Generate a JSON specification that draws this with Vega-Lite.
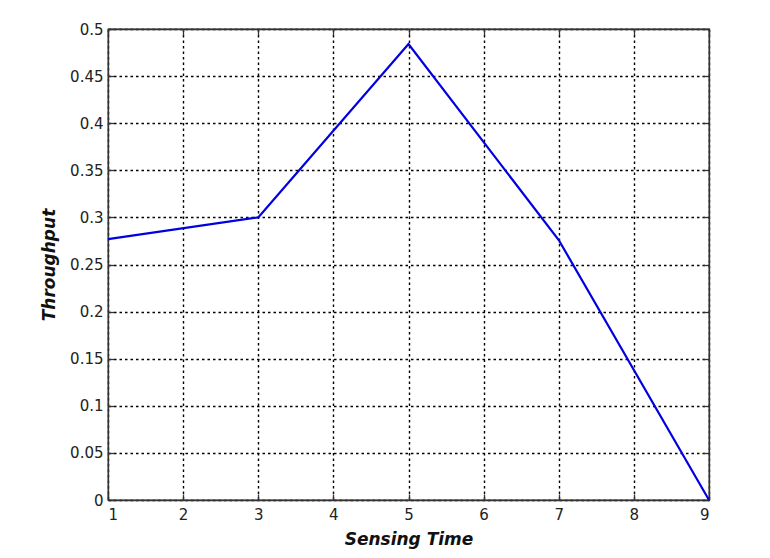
{
  "$schema": "https://vega.github.io/schema/vega-lite/v6.json",
  "width": 601,
  "height": 471,
  "autosize": "none",
  "padding": {"left": 108, "top": 29, "right": 61, "bottom": 58},
  "background": "white",
  "config": {
    "view": {"stroke": "#333333", "strokeWidth": 1.3},
    "axis": {
      "labelFont": "DejaVu Sans",
      "labelFontSize": 15,
      "labelColor": "#222222",
      "domainColor": "#333333",
      "domainWidth": 1.3,
      "tickColor": "#333333",
      "tickWidth": 1.3,
      "gridColor": "#000000",
      "gridDash": [2.5, 3],
      "gridWidth": 1.4,
      "gridOpacity": 1,
      "titleFont": "DejaVu Sans",
      "titleFontSize": 17,
      "titleFontWeight": "bold",
      "titleFontStyle": "italic",
      "titleColor": "#111111"
    }
  },
  "data": {
    "values": [
      {"t": 1, "throughput": 0.277},
      {"t": 3, "throughput": 0.3},
      {"t": 5, "throughput": 0.484},
      {"t": 7, "throughput": 0.276},
      {"t": 9, "throughput": 0.0}
    ]
  },
  "resolve": {"axis": {"x": "independent", "y": "independent"}},
  "layer": [
    {
      "mark": {"type": "line", "color": "#0000e0", "strokeWidth": 2.2},
      "encoding": {
        "x": {
          "field": "t", "type": "quantitative",
          "scale": {"domain": [1, 9], "nice": false, "zero": false},
          "axis": {"title": "Sensing Time", "values": [1,2,3,4,5,6,7,8,9], "format": "~g", "tickSize": -6, "labelPadding": 13, "titlePadding": 9, "grid": true}
        },
        "y": {
          "field": "throughput", "type": "quantitative",
          "scale": {"domain": [0, 0.5], "nice": false},
          "axis": {"title": "Throughput", "values": [0,0.05,0.1,0.15,0.2,0.25,0.3,0.35,0.4,0.45,0.5], "format": "~g", "tickSize": -6, "labelPadding": 11, "titlePadding": 11, "grid": true}
        }
      }
    },
    {
      "mark": {"type": "line", "opacity": 0},
      "encoding": {
        "x": {
          "field": "t", "type": "quantitative",
          "axis": {"orient": "top", "title": null, "labels": false, "values": [1,2,3,4,5,6,7,8,9], "tickSize": -6, "grid": false}
        },
        "y": {
          "field": "throughput", "type": "quantitative",
          "axis": {"orient": "right", "title": null, "labels": false, "values": [0,0.05,0.1,0.15,0.2,0.25,0.3,0.35,0.4,0.45,0.5], "tickSize": -6, "grid": false}
        }
      }
    }
  ]
}
